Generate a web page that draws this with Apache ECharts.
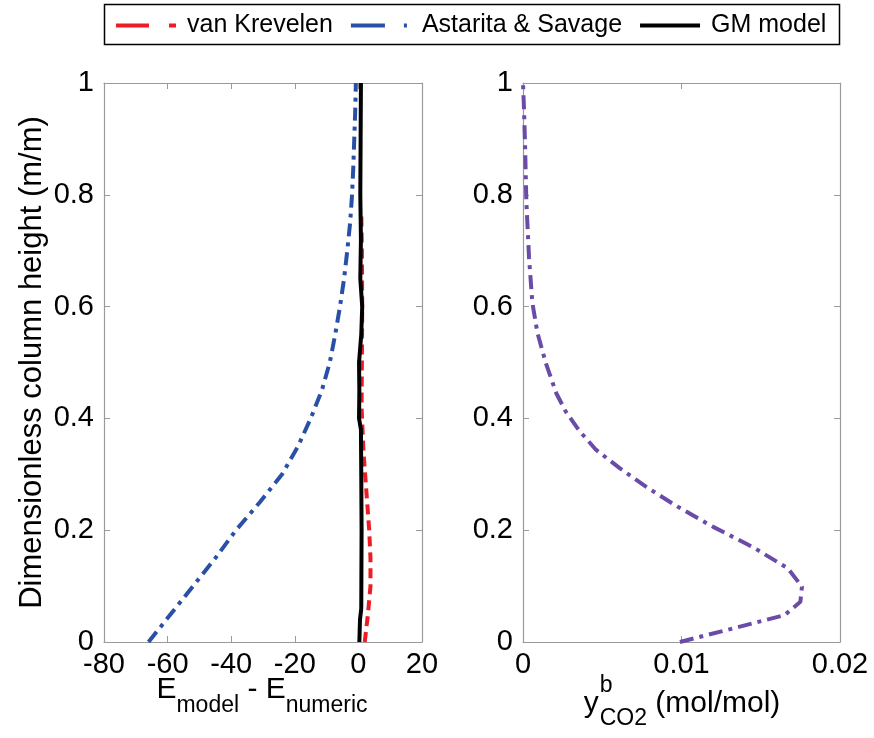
<!DOCTYPE html>
<html><head><meta charset="utf-8">
<script src="https://cdn.jsdelivr.net/npm/echarts@6/dist/echarts.min.js"></script>
<style>html,body{margin:0;padding:0;background:#fff}#c{width:874px;height:738px}</style>
</head><body><div id="c"></div>
<script>
const FONT = "'Liberation Sans', Arial, sans-serif";
const yTickLabels = ['0','0.2','0.4','0.6','0.8','1'];
const leftXTickLabels = ['-80','-60','-40','-20','0','20'];
const rightXTickLabels = ['0','0.01','0.02'];
const legendNames = ['van Krevelen','Astarita & Savage','GM model'];

// van Krevelen (red dashed)
const vkE = [2.0, 3.0, 3.8, 3.8, 3.4, 2.5, 1.6, 1.0, 1.1, 1.2, 1.1, 0.9];
const vkH = [0, 0.05, 0.1, 0.15, 0.2, 0.27, 0.34, 0.42, 0.5, 0.6, 0.7, 0.77];
// Astarita & Savage (blue dash-dot)
const asE = [-66, -59, -52, -45, -38.5, -31, -24, -19, -15, -11.5, -9, -7.3, -5.8, -4.5, -3.5, -2.6, -2, -1.6, -1.3, -1.0, -0.8];
const asH = [0, 0.05, 0.1, 0.15, 0.2, 0.25, 0.3, 0.35, 0.4, 0.45, 0.5, 0.55, 0.6, 0.65, 0.7, 0.75, 0.8, 0.85, 0.9, 0.95, 1.0];
// GM model (black solid)
const gmE = [0.3, 0.5, 0.9, 1.0, 0.9, 0.8, 0.2, 0.3, 0.2, 0.9, 1.2, 0.6, 0.8, 0.6, 0.7, 0.8];
const gmH = [0, 0.04, 0.06, 0.2, 0.3, 0.38, 0.4, 0.45, 0.5, 0.55, 0.6, 0.65, 0.72, 0.8, 0.9, 1.0];
// y_CO2 bulk (purple dash-dot)
const yCO2 = [0.0099, 0.0165, 0.0175, 0.0176, 0.0167, 0.01455, 0.0120, 0.0097, 0.0078, 0.0061, 0.0046, 0.00355, 0.0027, 0.0021, 0.00144, 0.00091, 0.00059, 0.00038, 0.00021, 0.00013, 0.00006, 0];
const yCO2H = [0, 0.048, 0.072, 0.099, 0.132, 0.169, 0.206, 0.243, 0.277, 0.311, 0.344, 0.378, 0.412, 0.445, 0.499, 0.553, 0.607, 0.688, 0.789, 0.889, 0.956, 1];

function zip(a, b) { return a.map((v, i) => [v, b[i]]); }

const AX = '#9a9a9a';
function xAx(grid, min, max, interval, pos, labels) {
  return {
    gridIndex: grid, type: 'value', min: min, max: max, interval: interval, position: pos,
    axisLine: { show: true, onZero: false, lineStyle: { color: AX, width: 1.2 } },
    axisTick: { show: true, inside: true, length: 6, lineStyle: { color: AX, width: 1 } },
    axisLabel: labels ? { show: true, fontSize: 29, fontFamily: FONT, color: '#000', margin: 8,
      formatter: v => labels[Math.round((v - min) / interval)] } : { show: false },
    splitLine: { show: false }
  };
}
function yAx(grid, pos, labels, name) {
  const o = {
    gridIndex: grid, type: 'value', min: 0, max: 1, interval: 0.2, position: pos,
    axisLine: { show: true, onZero: false, lineStyle: { color: AX, width: 1.2 } },
    axisTick: { show: true, inside: true, length: 6, lineStyle: { color: AX, width: 1 } },
    axisLabel: labels ? { show: true, fontSize: 29, fontFamily: FONT, color: '#000', margin: 10,
      formatter: v => labels[Math.round(v / 0.2)] } : { show: false },
    splitLine: { show: false }
  };
  if (name) {
    o.name = name; o.nameLocation = 'middle'; o.nameGap = 56;
    o.nameTextStyle = { fontSize: 31, fontFamily: FONT, color: '#000' };
  }
  return o;
}

// text measurement for composed axis titles
const cv = document.createElement('canvas').getContext('2d');
function tw(t, s) { cv.font = s + 'px ' + FONT; return cv.measureText(t).width; }
function txt(t, s, x, y) {
  return { type: 'text', x: x, y: y, silent: true,
    style: { text: t, fontSize: s, fontFamily: FONT, fill: '#000', align: 'left', verticalAlign: 'middle' } };
}
const graphics = [];
graphics.push({ type: 'rect', silent: true, shape: { x: 104.5, y: 4.5, width: 735, height: 40 },
  style: { fill: 'none', stroke: '#000', lineWidth: 1.5 } });
// left title: E_model - E_numeric
(function () {
  const big = 30, sm = 23, cyB = 690, cyS = 706;
  const parts = [['E', big, cyB], ['model', sm, cyS], [' - E', big, cyB], ['numeric', sm, cyS]];
  const total = parts.reduce((s, p) => s + tw(p[0], p[1]), 0);
  let x = 262 - total / 2;
  parts.forEach(p => { graphics.push(txt(p[0], p[1], x, p[2])); x += tw(p[0], p[1]); });
})();
// right title: y^b_CO2 (mol/mol)
(function () {
  const big = 30, sm = 23;
  const wy = tw('y', big), wb = tw('b', sm), wc = tw('CO2', sm), wr = tw(' (mol/mol)', big);
  const total = wy + 1 + Math.max(wb, wc) + wr;
  let x = 682 - total / 2;
  graphics.push(txt('y', big, x, 704));
  x += wy + 1;
  graphics.push(txt('b', sm, x, 686));
  graphics.push(txt('CO2', sm, x, 719));
  x += Math.max(wb, wc);
  graphics.push(txt(' (mol/mol)', big, x, 704));
})();

const option = {
  animation: false,
  textStyle: { fontFamily: FONT },
  grid: [
    { left: 104, right: 452, top: 83, bottom: 96 },
    { left: 523, right: 34, top: 83, bottom: 96 }
  ],
  legend: {
    left: 114, top: 13, itemWidth: 60, itemHeight: 14, itemGap: 16, padding: 0,
    selectedMode: false,
    itemStyle: { opacity: 0 },
    textStyle: { fontSize: 25, fontFamily: FONT, color: '#000', padding: [0, 0, 0, 6] },
    data: [
      { name: legendNames[0], lineStyle: { type: [33, 20, 7, 100], width: 4 } },
      { name: legendNames[1], lineStyle: { type: [34, 19, 3, 100], width: 4 } },
      { name: legendNames[2], lineStyle: { width: 4 } }
    ]
  },
  xAxis: [
    xAx(0, -80, 20, 20, 'bottom', leftXTickLabels),
    xAx(0, -80, 20, 20, 'top', null),
    xAx(1, 0, 0.02, 0.01, 'bottom', rightXTickLabels),
    xAx(1, 0, 0.02, 0.01, 'top', null)
  ],
  yAxis: [
    yAx(0, 'left', yTickLabels, 'Dimensionless column height (m/m)'),
    yAx(0, 'right', null),
    yAx(1, 'left', yTickLabels),
    yAx(1, 'right', null)
  ],
  series: [
    { name: legendNames[1], type: 'line', xAxisIndex: 0, yAxisIndex: 0, data: zip(asE, asH),
      symbol: 'none', showSymbol: false, z: 2,
      lineStyle: { color: '#2a50a6', width: 4, type: [13, 6, 4, 6] }, itemStyle: { color: '#2a50a6' } },
    { name: legendNames[0], type: 'line', xAxisIndex: 0, yAxisIndex: 0, data: zip(vkE, vkH),
      symbol: 'none', showSymbol: false, z: 3,
      lineStyle: { color: '#ee1d25', width: 4, type: [10, 6] }, itemStyle: { color: '#ee1d25' } },
    { name: legendNames[2], type: 'line', xAxisIndex: 0, yAxisIndex: 0, data: zip(gmE, gmH),
      symbol: 'none', showSymbol: false, z: 4,
      lineStyle: { color: '#000', width: 4 }, itemStyle: { color: '#000' } },
    { name: 'y_CO2', type: 'line', xAxisIndex: 2, yAxisIndex: 2, data: zip(yCO2, yCO2H),
      symbol: 'none', showSymbol: false, z: 2,
      lineStyle: { color: '#6a4ba8', width: 4, type: [14, 6, 4, 6] }, itemStyle: { color: '#6a4ba8' } }
  ],
  graphic: graphics
};
const chart = echarts.init(document.getElementById('c'), null, { renderer: 'canvas' });
chart.setOption(option);
</script>
</body></html>
